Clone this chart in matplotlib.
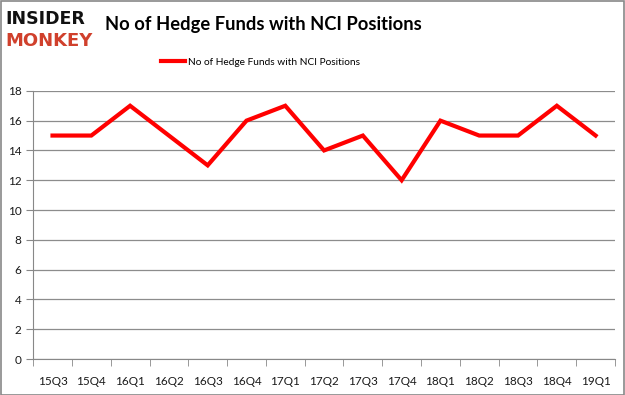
import numpy as np
import matplotlib.pyplot as plt
from matplotlib.patches import Rectangle

# Data
quarters = ["15Q3", "15Q4", "16Q1", "16Q2", "16Q3", "16Q4", "17Q1", "17Q2",
            "17Q3", "17Q4", "18Q1", "18Q2", "18Q3", "18Q4", "19Q1"]
funds = [15, 15, 17, 15, 13, 16, 17, 14, 15, 12, 16, 15, 15, 17, 15]
y_ticks = [0, 2, 4, 6, 8, 10, 12, 14, 16, 18]

series_name = "No of Hedge Funds with NCI Positions"

plt.rcParams["font.family"] = ["Lato", "DejaVu Sans"]

fig = plt.figure(figsize=(6.25, 3.95), dpi=100)
ax = fig.add_axes([0.053, 0.091, 0.931, 0.679])

x = np.arange(len(quarters))
ax.plot(x, funds, color="#ff0000", linewidth=3, label=series_name,
        solid_joinstyle="miter")

ax.set_xlim(-0.5, len(quarters) - 0.5)
ax.set_ylim(0, 18)
ax.set_yticks(y_ticks)
ax.set_xticks(x)
ax.set_xticklabels(quarters)
ax.set_xticks(np.arange(-0.5, len(quarters)), minor=True)
ax.tick_params(axis="x", which="major", length=0, pad=12, labelsize=8.5,
               labelcolor="#1a1a1a")
ax.tick_params(axis="x", which="minor", length=5, color="#888888")
ax.tick_params(axis="y", length=5, color="#888888", labelsize=8.5,
               labelcolor="#1a1a1a")

ax.grid(axis="y", color="#8c8c8c", linewidth=0.9)
ax.set_axisbelow(True)
for side in ["top", "right"]:
    ax.spines[side].set_visible(False)
for side in ["left", "bottom"]:
    ax.spines[side].set_color("#888888")

# Title and logo
fig.text(0.168, 0.937, "No of Hedge Funds with NCI Positions", fontsize=13.2,
         fontweight="bold", va="center", ha="left")
fig.text(0.008, 0.953, "INSIDER", fontsize=12.5, fontweight="heavy",
         family="DejaVu Sans", color="#111111", va="center", ha="left")
fig.text(0.008, 0.895, "MONKEY", fontsize=13, fontweight="heavy",
         family="DejaVu Sans", color="#d0402c", va="center", ha="left")

ax.legend(loc="center", bbox_to_anchor=(0.391, 1.107), frameon=False,
          fontsize=7.3, handlelength=2.3, handletextpad=0.3)

fig.patches.append(Rectangle((0.001, 0.001), 0.997, 0.997, transform=fig.transFigure,
                             fill=False, edgecolor="#888888", linewidth=1.2))

fig.savefig("out.png", dpi=100)
